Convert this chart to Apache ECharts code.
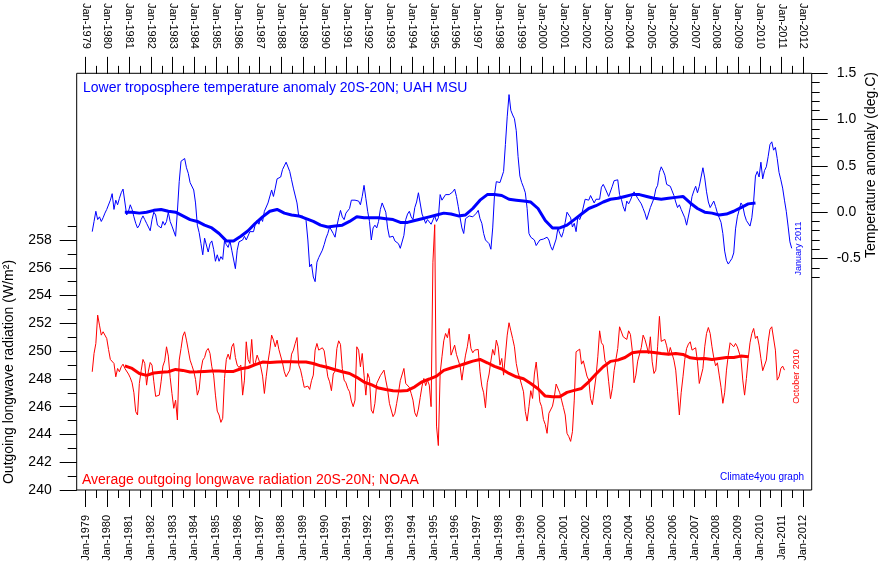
<!DOCTYPE html>
<html><head><meta charset="utf-8">
<script src="https://cdn.jsdelivr.net/npm/echarts/dist/echarts.min.js"></script>
<style>html,body{margin:0;padding:0;background:#fff}#c{width:880px;height:564px}</style>
</head><body><div id="c"></div>
<script>
// ---------- DATA ----------
// x positions are decimal years as plotted on the reference time axis
const uahStart = 1979.30;          // first monthly UAH value
const uah = [
-0.21,-0.10,0.01,-0.08,-0.05,-0.10,-0.06,-0.01,0.03,0.01,0.13,0.20,
0.03,0.13,0.08,0.15,0.21,0.25,0.27,-0.03,0.01,0.08,0.03,-0.05,
-0.12,-0.17,-0.14,-0.08,-0.04,-0.08,-0.12,-0.16,-0.20,-0.08,0.00,-0.03,
-0.14,-0.12,-0.17,-0.10,-0.14,-0.10,0.00,-0.10,-0.15,-0.17,-0.26,0.01,
0.33,0.55,0.53,0.58,0.48,0.42,0.32,0.34,0.24,0.10,-0.14,-0.22,
-0.34,-0.46,-0.28,-0.26,-0.43,-0.34,-0.31,-0.40,-0.53,-0.46,-0.53,-0.48,
-0.51,-0.31,-0.35,-0.38,-0.31,-0.41,-0.43,-0.61,-0.41,-0.32,-0.30,-0.30,
-0.26,-0.30,-0.32,-0.21,-0.21,-0.21,-0.13,-0.09,-0.13,-0.06,-0.10,0.01,
0.00,0.10,0.10,0.24,0.17,0.26,0.36,0.37,0.38,0.46,0.50,0.54,
0.55,0.44,0.35,0.26,0.26,0.10,-0.05,-0.04,-0.04,-0.04,-0.09,-0.30,
-0.59,-0.56,-0.70,-0.75,-0.54,-0.49,-0.48,-0.41,-0.35,-0.28,-0.23,-0.16,
-0.14,-0.23,-0.27,-0.15,-0.06,0.02,-0.05,-0.08,-0.01,0.01,0.04,0.13,
0.13,0.13,0.15,0.12,0.08,0.17,0.29,0.15,0.01,-0.10,-0.30,-0.17,
-0.14,-0.17,-0.10,0.03,0.10,0.09,0.00,-0.17,-0.27,-0.29,-0.26,-0.31,
-0.30,-0.34,-0.39,-0.41,-0.25,-0.08,-0.02,0.01,-0.05,-0.08,0.05,0.11,
0.21,0.19,-0.02,-0.02,-0.12,-0.08,-0.10,-0.13,-0.12,-0.04,-0.10,-0.06,
0.19,0.13,0.12,0.19,0.19,0.19,0.21,0.22,0.25,0.17,0.06,-0.06,
-0.17,-0.23,-0.07,-0.05,-0.04,-0.06,-0.05,-0.03,-0.01,0.02,-0.07,-0.12,
-0.23,-0.30,-0.30,-0.34,-0.40,-0.17,0.19,0.33,0.35,0.32,0.34,0.44,
0.73,1.03,1.27,1.10,1.05,1.01,0.88,0.60,0.39,0.32,0.27,0.21,
0.04,-0.23,-0.27,-0.27,-0.30,-0.36,-0.34,-0.30,-0.28,-0.29,-0.27,-0.27,
-0.30,-0.37,-0.41,-0.41,-0.29,-0.17,-0.23,-0.27,-0.21,-0.11,0.00,0.01,
-0.06,-0.16,-0.12,-0.21,-0.05,-0.08,-0.03,-0.05,0.14,0.16,0.13,0.18,
0.17,0.10,0.14,0.12,0.14,0.27,0.30,0.26,0.25,0.17,0.19,0.28,
0.34,0.36,0.35,0.19,0.14,0.06,0.01,0.12,0.09,0.13,0.18,0.22,
0.21,0.15,0.12,0.09,0.04,-0.01,-0.08,-0.10,0.05,0.05,0.15,0.25,
0.29,0.43,0.49,0.45,0.40,0.30,0.28,0.28,0.23,0.18,0.11,0.05,
0.08,0.03,0.03,-0.06,-0.14,-0.14,0.05,0.17,0.23,0.28,0.21,0.28,
0.38,0.48,0.37,0.22,0.11,0.05,0.07,0.12,0.06,-0.01,-0.06,-0.11,
-0.23,-0.42,-0.52,-0.56,-0.53,-0.50,-0.44,-0.18,-0.05,-0.06,0.10,0.07,
-0.03,-0.09,-0.10,-0.15,-0.06,0.12,0.39,0.44,0.38,0.54,0.36,0.45,
0.49,0.60,0.73,0.76,0.67,0.70,0.58,0.43,0.35,0.26,0.13,0.01,
-0.15,-0.32,-0.39
];
const uahSmoothStart = 1980.80;    // running mean, one value every 4 months
const uahSmooth = [
0.00,0.00,-0.01,0.00,0.02,0.03,0.01,0.00,-0.04,-0.08,
-0.10,-0.14,-0.17,-0.23,-0.31,-0.31,-0.26,-0.20,-0.12,-0.05,
0.01,0.03,-0.01,-0.03,-0.04,-0.07,-0.10,-0.14,-0.16,-0.15,
-0.14,-0.10,-0.05,-0.06,-0.06,-0.06,-0.07,-0.08,-0.11,-0.11,
-0.09,-0.07,-0.05,-0.03,-0.01,-0.02,-0.04,-0.03,0.04,0.13,
0.19,0.19,0.18,0.14,0.13,0.12,0.11,0.04,-0.09,-0.17,
-0.17,-0.14,-0.08,-0.02,0.04,0.07,0.11,0.14,0.15,0.17,
0.19,0.19,0.17,0.15,0.14,0.15,0.16,0.17,0.10,0.04,
0.00,-0.01,-0.03,-0.02,0.01,0.05,0.09,0.10
];
const olrStart = 1979.30;          // first monthly OLR value
const olr = [
248.51,249.83,250.55,252.59,251.87,251.15,251.39,251.51,250.91,250.12,249.40,249.47,
249.11,248.15,248.75,248.51,248.87,249.06,248.75,248.63,248.35,248.08,247.72,247.00,
245.64,245.40,247.67,248.59,249.40,249.11,247.55,248.56,249.18,248.99,247.79,246.74,
246.62,246.83,247.79,248.92,249.30,250.31,249.64,248.11,246.95,245.88,246.47,245.04,
249.35,250.19,251.08,251.39,250.79,250.07,249.35,248.97,248.56,247.96,246.83,247.24,
248.63,249.35,249.54,250.02,250.19,249.83,248.87,248.27,246.83,245.68,245.40,244.87,
245.16,248.03,249.40,249.78,249.40,250.31,250.55,249.54,248.99,248.82,248.99,246.83,
247.91,250.67,249.40,249.11,250.84,248.99,249.16,249.71,249.35,248.87,248.20,246.95,
248.15,249.23,250.07,251.15,250.79,250.31,250.79,250.12,250.26,249.16,248.51,248.15,
248.11,248.63,249.78,250.07,250.55,250.98,248.99,248.63,248.03,247.39,247.43,247.48,
247.24,247.87,248.27,250.07,250.55,250.07,249.95,250.24,250.02,249.11,248.15,247.79,
247.15,248.35,248.56,250.19,250.74,250.48,248.75,247.91,247.72,247.31,247.07,246.40,
246.00,246.47,250.31,250.07,248.87,249.83,248.27,246.83,248.39,248.03,245.76,245.52,
246.24,247.67,247.79,248.23,248.35,248.63,247.91,247.24,246.24,246.19,245.28,245.52,
246.24,247.00,247.87,247.87,248.75,247.67,247.79,247.39,246.95,246.47,245.56,245.28,
245.83,246.67,247.48,248.03,247.51,247.91,247.55,246.00,256.40,259.10,244.60,243.20,
248.40,249.59,250.74,251.27,250.96,251.63,249.71,249.78,250.43,249.76,249.83,248.92,
247.91,248.87,249.71,250.31,251.22,250.19,249.88,250.07,250.02,250.12,248.51,247.48,
247.00,245.92,247.72,248.35,249.30,250.12,249.71,250.79,250.31,248.99,249.47,248.27,
248.39,251.15,252.04,251.46,250.91,250.31,249.11,248.44,248.03,247.55,247.07,245.64,
244.96,246.00,247.15,246.59,248.35,249.21,247.91,246.35,246.00,245.08,244.72,244.08,
245.52,245.56,246.04,246.71,247.63,247.67,247.00,246.47,245.95,245.40,244.08,243.84,
243.50,244.20,246.47,249.95,249.95,250.14,249.06,249.30,249.40,248.20,247.91,246.59,
246.14,247.15,248.15,249.59,251.46,250.60,250.43,249.30,249.06,247.79,246.57,247.31,
248.59,249.40,250.19,251.75,251.82,251.03,251.03,250.84,251.46,251.20,250.07,247.72,
248.27,249.28,249.23,250.26,251.15,250.84,250.36,249.83,251.03,249.23,248.39,248.63,
250.31,252.50,250.70,250.67,250.84,250.38,249.71,250.26,250.31,249.35,248.63,247.07,
245.40,247.00,248.15,249.40,250.19,250.50,250.67,250.07,250.07,250.24,249.23,247.67,
247.79,248.75,250.31,251.27,251.70,251.27,250.31,249.52,248.94,249.16,248.27,247.39,
246.24,247.00,248.63,249.71,250.60,250.55,250.31,250.55,250.31,250.19,249.47,247.91,
246.83,248.03,249.47,250.60,251.27,251.63,250.91,251.08,250.43,249.47,248.59,248.63,
249.35,250.67,251.56,251.75,251.75,250.07,247.91,248.15,248.75,248.92,248.63
];
const olrSmoothStart = 1980.80;    // running mean, one value every 4 months
const olrSmooth = [
248.94,248.75,248.39,248.25,248.42,248.47,248.51,248.68,248.61,248.49,
248.51,248.54,248.56,248.56,248.54,248.54,248.73,248.82,249.02,249.21,
249.18,249.21,249.23,249.23,249.21,249.21,249.11,248.94,248.82,248.66,
248.51,248.39,248.11,247.77,247.58,247.34,247.24,247.15,247.12,247.17,
247.43,247.79,247.99,248.20,248.61,248.78,248.94,249.11,249.28,249.40,
249.16,248.90,248.71,248.39,248.15,248.01,247.67,247.29,246.76,246.71,
246.71,247.03,247.17,247.31,247.79,248.35,248.87,249.26,249.35,249.54,
249.88,249.95,249.95,249.90,249.83,249.78,249.83,249.76,249.52,249.45,
249.47,249.40,249.47,249.54,249.54,249.64,249.59
];
const yearTicks = [1979, 2012];          // Jan-1979 ... Jan-2012
const olrTicks = [240, 258, 259];        // labelled range, minor-tick top
const tempTicks = [-0.5, 1.5, -0.7];     // labelled range, minor-tick bottom
const texts = {
  uahTitle: 'Lower troposphere temperature anomaly 20S-20N; UAH MSU',
  olrTitle: 'Average outgoing longwave radiation 20S-20N; NOAA',
  leftName: 'Outgoing longwave radiation (W/m²)',
  rightName: 'Temperature anomaly (deg.C)',
  credit: 'Climate4you graph',
  uahLast: 'January 2011',
  olrLast: 'October 2010'
};

// ---------- LAYOUT ----------
const FONT = 'Arial, "Liberation Sans", sans-serif';
const L = 76.7, R = 811.7, T = 73.3, B = 490;
const W = R - L, H = B - T;
const xMin = 1978.586, xMax = 2012.386;
const oMin = 240, oMax = 270, tMin = -3.0, tMax = 1.5;
const xPix = v => L + (v - xMin) / (xMax - xMin) * W;
const yO = v => B - (v - oMin) / (oMax - oMin) * H;
const yT = v => B - (v - tMin) / (tMax - tMin) * H;

const monthly = (start, arr) => arr.map((v, i) => [start + i / 12, v]);
const every4 = (start, arr) => arr.map((v, i) => [start + i / 3, v]);

const blk = { color: '#000', width: 1 };
const hiddenX = gi => ({ type: 'value', gridIndex: gi, show: false, min: 0, max: 1, axisLine: { onZero: false } });
const hiddenY = gi => ({ type: 'value', gridIndex: gi, show: false, min: 0, max: 1, axisLine: { onZero: false } });
const xTickAxis = pos => ({
  type: 'value', gridIndex: 1, position: pos, min: yearTicks[0], max: yearTicks[1], interval: 1,
  axisLine: { show: false, onZero: false }, splitLine: { show: false },
  axisTick: { show: true, inside: false, length: 17, lineStyle: blk },
  minorTick: { show: true, splitNumber: 2, length: 8, lineStyle: blk },
  minorSplitLine: { show: false },
  axisLabel: { rotate: 90, margin: 25, fontSize: 11, fontFamily: FONT, color: '#000',
    showMinLabel: true, showMaxLabel: true,
    formatter: v => 'Jan-' + Math.round(v) }
});
const yTickAxis = (gi, pos, min, max, interval, len, label) => ({
  type: 'value', gridIndex: gi, position: pos, min: min, max: max, interval: interval,
  axisLine: { show: false, onZero: false }, splitLine: { show: false },
  axisTick: { show: true, inside: false, length: len, lineStyle: blk },
  axisLabel: label ? Object.assign({ margin: 25, fontSize: 14, fontFamily: FONT, color: '#000' }, label) : { show: false }
});

const chart = echarts.init(document.getElementById('c'), null, { renderer: 'canvas' });
chart.setOption({
  animation: false,
  backgroundColor: '#fff',
  grid: [
    { left: L, top: T, width: W, height: H, show: true, borderColor: '#000', borderWidth: 1, backgroundColor: 'transparent' },
    { left: xPix(yearTicks[0]), top: T, width: xPix(yearTicks[1]) - xPix(yearTicks[0]), height: H },
    { left: L, width: W, top: yO(olrTicks[1]), height: B - yO(olrTicks[1]) },
    { left: L, width: W, top: yO(olrTicks[2]), height: B - yO(olrTicks[2]) },
    { left: L, width: W, top: T, height: yT(tempTicks[0]) - T },
    { left: L, width: W, top: T, height: yT(tempTicks[2]) - T }
  ],
  xAxis: [
    { type: 'value', gridIndex: 0, show: false, min: xMin, max: xMax, axisLine: { onZero: false } },
    xTickAxis('top'),
    xTickAxis('bottom'),
    hiddenX(2), hiddenX(3), hiddenX(4), hiddenX(5)
  ],
  yAxis: [
    { type: 'value', gridIndex: 0, position: 'left', show: false, min: oMin, max: oMax, axisLine: { onZero: false } },
    { type: 'value', gridIndex: 0, position: 'right', show: false, min: tMin, max: tMax, axisLine: { onZero: false } },
    hiddenY(1),
    yTickAxis(2, 'left', olrTicks[0], olrTicks[1], 2, 17, {}),
    yTickAxis(3, 'left', olrTicks[0], olrTicks[2], 1, 9, null),
    yTickAxis(4, 'right', tempTicks[0], tempTicks[1], 0.5, 16, { formatter: v => v.toFixed(1) }),
    yTickAxis(5, 'right', tempTicks[2], tempTicks[1], 0.1, 8, null)
  ],
  series: [
    { type: 'line', xAxisIndex: 0, yAxisIndex: 0, symbol: 'none', z: 2,
      lineStyle: { color: '#ff0000', width: 1 }, data: monthly(olrStart, olr) },
    { type: 'line', xAxisIndex: 0, yAxisIndex: 0, symbol: 'none', z: 3,
      lineStyle: { color: '#ff0000', width: 3 }, data: every4(olrSmoothStart, olrSmooth) },
    { type: 'line', xAxisIndex: 0, yAxisIndex: 1, symbol: 'none', z: 4,
      lineStyle: { color: '#0000ff', width: 1 }, data: monthly(uahStart, uah) },
    { type: 'line', xAxisIndex: 0, yAxisIndex: 1, symbol: 'none', z: 5,
      lineStyle: { color: '#0000ff', width: 3 }, data: every4(uahSmoothStart, uahSmooth) }
  ],
  graphic: [
    { type: 'text', x: 83, y: 88, style: { text: texts.uahTitle, fill: '#0000ff', font: '14px ' + FONT,
      textAlign: 'left', textVerticalAlign: 'middle', align: 'left', verticalAlign: 'middle' } },
    { type: 'text', x: 82, y: 480, style: { text: texts.olrTitle, fill: '#ff0000', font: '14px ' + FONT,
      textAlign: 'left', textVerticalAlign: 'middle', align: 'left', verticalAlign: 'middle' } },
    { type: 'text', x: 804, y: 477, style: { text: texts.credit, fill: '#0000ff', font: '10px ' + FONT,
      textAlign: 'right', textVerticalAlign: 'middle', align: 'right', verticalAlign: 'middle' } },
    { type: 'text', x: 799, y: 248.5, rotation: Math.PI / 2, style: { text: texts.uahLast, fill: '#0000ff', font: '9px ' + FONT,
      textAlign: 'center', textVerticalAlign: 'middle', align: 'center', verticalAlign: 'middle' } },
    { type: 'text', x: 797, y: 376.5, rotation: Math.PI / 2, style: { text: texts.olrLast, fill: '#ff0000', font: '9px ' + FONT,
      textAlign: 'center', textVerticalAlign: 'middle', align: 'center', verticalAlign: 'middle' } },
    { type: 'text', x: 9, y: 372, rotation: Math.PI / 2, style: { text: texts.leftName, fill: '#000', font: '14px ' + FONT,
      textAlign: 'center', textVerticalAlign: 'middle', align: 'center', verticalAlign: 'middle' } },
    { type: 'text', x: 871, y: 165, rotation: Math.PI / 2, style: { text: texts.rightName, fill: '#000', font: '14px ' + FONT,
      textAlign: 'center', textVerticalAlign: 'middle', align: 'center', verticalAlign: 'middle' } }
  ]
});
</script>
</body></html>
